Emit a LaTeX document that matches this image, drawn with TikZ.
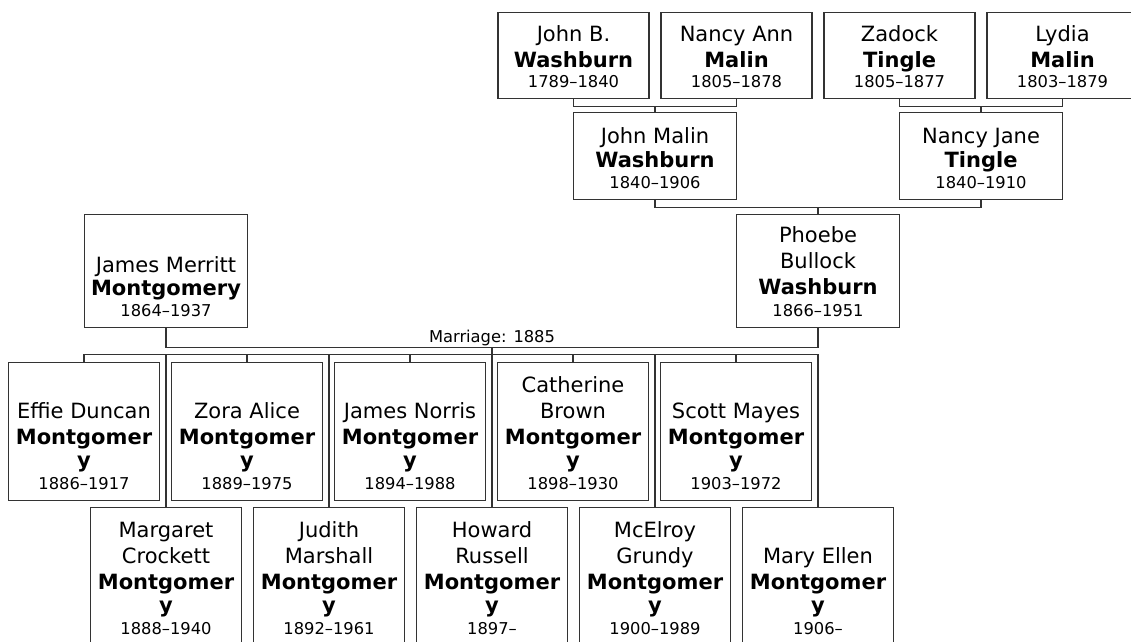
\documentclass[tikz,border=0pt]{standalone}
\usepackage{fontspec}
\usepackage{xcolor}
\setmainfont{DejaVu Sans}
\definecolor{ink}{RGB}{51, 51, 51}
\newcommand{\namefont}{\fontsize{21pt}{26pt}\selectfont}
\newcommand{\datefont}{\fontsize{16.3pt}{20pt}\selectfont}
\newcommand{\cardtext}[3]{\parbox[c][#1][b]{#2}{\centering #3}}
\tikzset{
    card/.style={rectangle, draw=ink, line width=1.2pt, fill=white, inner sep=0pt, inner ysep=10pt, font=\namefont},
    link/.style={draw=ink, line width=1.2pt}
}

\begin{document}
\begin{tikzpicture}[x=1pt, y=-1pt]
        \path[use as bounding box] (0,0) rectangle (1131,641);
        \clip (0,0) rectangle (1131,641);

        % grandparents
        \node[card] (jbw) at (573.5,55.5) {\cardtext{65pt}{151pt}{John B.\\ \textbf{Washburn}\\[-6pt] {\datefont 1789--1840}}};
        \node[card] (nam) at (736.5,55.5) {\cardtext{65pt}{151pt}{Nancy Ann\\ \textbf{Malin}\\[-6pt] {\datefont 1805--1878}}};
        \node[card] (zt) at (899.5,55.5) {\cardtext{65pt}{151pt}{Zadock\\ \textbf{Tingle}\\[-6pt] {\datefont 1805--1877}}};
        \node[card] (lm) at (1062.5,55.5) {\cardtext{65pt}{151pt}{Lydia\\ \textbf{Malin}\\[-6pt] {\datefont 1803--1879}}};

        % parents
        \node[card] (jmw) at (655,156) {\cardtext{66pt}{163pt}{John Malin\\[-2pt] \textbf{Washburn}\\[-5pt] {\datefont 1840--1906}}};
        \node[card] (njt) at (981,156) {\cardtext{66pt}{163pt}{Nancy Jane\\[-2pt] \textbf{Tingle}\\[-5pt] {\datefont 1840--1910}}};

        % couple
        \node[card] (jmm) at (166,271) {\cardtext{92pt}{163pt}{James Merritt\\[-3pt] \textbf{Montgomery}\\[-5pt] {\datefont 1864--1937}}};
        \node[card] (pbw) at (818,271) {\cardtext{92pt}{163pt}{Phoebe\\ Bullock\\ \textbf{Washburn}\\[-4pt] {\datefont 1866--1951}}};

        % children, upper row
        \node[card] (effie) at (84,431.5) {\cardtext{117pt}{151pt}{Effie Duncan\\ \textbf{Montgomer}\\[-3pt] \textbf{y}\\[-4pt] {\datefont 1886--1917}}};
        \node[card] (zora) at (247,431.5) {\cardtext{117pt}{151pt}{Zora Alice\\ \textbf{Montgomer}\\[-3pt] \textbf{y}\\[-4pt] {\datefont 1889--1975}}};
        \node[card] (jnorris) at (410,431.5) {\cardtext{117pt}{151pt}{James Norris\\ \textbf{Montgomer}\\[-3pt] \textbf{y}\\[-4pt] {\datefont 1894--1988}}};
        \node[card] (cath) at (573,431.5) {\cardtext{117pt}{151pt}{Catherine\\ Brown\\ \textbf{Montgomer}\\[-3pt] \textbf{y}\\[-4pt] {\datefont 1898--1930}}};
        \node[card] (scott) at (736,431.5) {\cardtext{117pt}{151pt}{Scott Mayes\\ \textbf{Montgomer}\\[-3pt] \textbf{y}\\[-4pt] {\datefont 1903--1972}}};

        % children, lower row
        \node[card] (marg) at (166,576.5) {\cardtext{117pt}{151pt}{Margaret\\ Crockett\\ \textbf{Montgomer}\\[-3pt] \textbf{y}\\[-4pt] {\datefont 1888--1940}}};
        \node[card] (judith) at (329,576.5) {\cardtext{117pt}{151pt}{Judith\\ Marshall\\ \textbf{Montgomer}\\[-3pt] \textbf{y}\\[-4pt] {\datefont 1892--1961}}};
        \node[card] (howard) at (492,576.5) {\cardtext{117pt}{151pt}{Howard\\ Russell\\ \textbf{Montgomer}\\[-3pt] \textbf{y}\\[-4pt] {\datefont 1897--}}};
        \node[card] (mcel) at (655,576.5) {\cardtext{117pt}{151pt}{McElroy\\ Grundy\\ \textbf{Montgomer}\\[-3pt] \textbf{y}\\[-4pt] {\datefont 1900--1989}}};
        \node[card] (mary) at (818,576.5) {\cardtext{117pt}{151pt}{Mary Ellen\\ \textbf{Montgomer}\\[-3pt] \textbf{y}\\[-4pt] {\datefont 1906--}}};

        \draw[link] (jbw.south) -- ++(0,8) coordinate (jbwnam) -| (nam.south);
        \draw[link] (jmw.north) -- (jmw.north |- jbwnam);
        \draw[link] (zt.south) -- ++(0,8) coordinate (ztlm) -| (lm.south);
        \draw[link] (njt.north) -- (njt.north |- ztlm);
        \draw[link] (jmw.south) -- ++(0,8) coordinate (jmwnjt) -| (njt.south);
        \draw[link] (pbw.north) -- (pbw.north |- jmwnjt);
        \draw[link] (jmm.south) -- ++(0,20) coordinate (wed) -| node[pos=0.25, above, font=\datefont, inner sep=1pt]{Marriage: 1885} (pbw.south);
        \draw[link] (effie.north) -- ++(0,-8) coordinate (kids) -| (mary.north);
        \foreach \c in {zora, jnorris, cath, scott, marg, judith, mcel}
            \draw[link] (\c.north) -- (\c.north |- kids);
        \draw[link] (howard.north) -- (howard.north |- wed);
\end{tikzpicture}
\end{document}
